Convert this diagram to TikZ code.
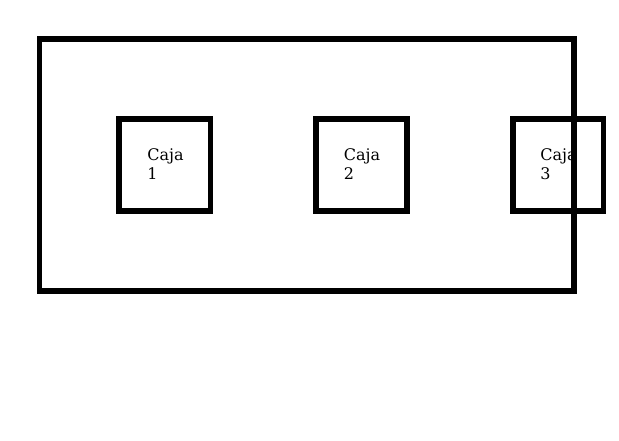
\documentclass[tikz,border=0pt]{standalone}
\usepackage{fontspec}
\setmainfont{DejaVu Serif}
\begin{document}
\begin{tikzpicture}[x=0.75pt,y=-0.75pt,
  box/.style={draw=black,line width=4.1pt,fill=none},
  lbl/.style={anchor=base west,inner sep=0pt,font=\fontsize{12pt}{13.5pt}\selectfont,text=black}]
\useasboundingbox (0,0) rectangle (619,441);
\draw[box] (119,119) rectangle (210.5,211);
\draw[box] (316,119) rectangle (407,211);
\draw[box] (513,119) rectangle (603.5,211);
\node[lbl] (c1) at (147,161) {Caja};
\node[lbl] (n1) at (147,179.5) {1};
\node[lbl] (c2) at (343.5,161) {Caja};
\node[lbl] (n2) at (343.5,179.5) {2};
\node[lbl] (c3) at (540,161) {Caja};
\node[lbl] (n3) at (540,179.5) {3};
\draw[box] (39.5,39) rectangle (574,291);
\end{tikzpicture}
\end{document}
